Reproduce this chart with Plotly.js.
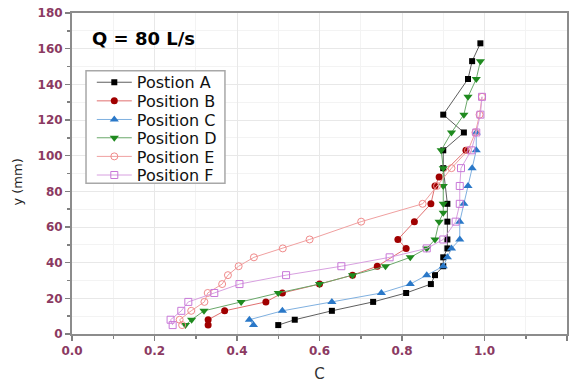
<!DOCTYPE html>
<html>
<head>
<meta charset="utf-8">
<script src="https://cdn.plot.ly/plotly-3.0.1.min.js"></script>
<style>
  html, body { margin: 0; padding: 0; background: #fff; }
  #chart { width: 577px; height: 383px; }
</style>
</head>
<body>
<div id="chart"></div>
<script>
// Concentration profiles C versus height y (mm) at six measuring positions, Q = 80 L/s

const posA_C = [0.50, 0.54, 0.63, 0.73, 0.81, 0.87, 0.88, 0.90, 0.90, 0.91, 0.91, 0.91, 0.91, 0.90, 0.90, 0.95, 0.90, 0.96, 0.97, 0.99];
const posA_y = [5, 8, 13, 18, 23, 28, 33, 38, 43, 48, 53, 63, 73, 93, 103, 113, 123, 143, 153, 163];

const posB_C = [0.33, 0.33, 0.37, 0.47, 0.51, 0.60, 0.68, 0.74, 0.81, 0.79, 0.83, 0.87, 0.88, 0.89, 0.955];
const posB_y = [5, 8, 13, 18, 23, 28, 33, 38, 48, 53, 63, 73, 83, 88, 103];

const posC_C = [0.44, 0.43, 0.51, 0.63, 0.75, 0.82, 0.86, 0.90, 0.91, 0.92, 0.94, 0.94, 0.95, 0.96, 0.97, 0.98, 0.98];
const posC_y = [5, 8, 13, 18, 23, 28, 33, 38, 43, 48, 53, 63, 73, 83, 93, 103, 113];

const posD_C = [0.275, 0.29, 0.32, 0.41, 0.50, 0.60, 0.68, 0.76, 0.82, 0.86, 0.88, 0.89, 0.90, 0.90, 0.90, 0.90, 0.895, 0.92, 0.95, 0.96, 0.98, 0.99];
const posD_y = [5, 8, 13, 18, 23, 28, 33, 38, 43, 48, 53, 63, 68, 73, 83, 93, 103, 113, 123, 133, 143, 153];

const posE_C = [0.267, 0.261, 0.289, 0.321, 0.329, 0.364, 0.378, 0.404, 0.441, 0.511, 0.576, 0.701, 0.85, 0.885, 0.92, 0.96, 0.978, 0.988, 0.994];
const posE_y = [5, 8, 13, 18, 23, 28, 33, 38, 43, 48, 53, 63, 73, 83, 93, 103, 113, 123, 133];

const posF_C = [0.244, 0.239, 0.265, 0.282, 0.345, 0.406, 0.519, 0.653, 0.77, 0.86, 0.90, 0.93, 0.94, 0.94, 0.943, 0.968, 0.98, 0.99, 0.994];
const posF_y = [5, 8, 13, 18, 23, 28, 33, 38, 43, 48, 53, 63, 73, 83, 93, 103, 113, 123, 133];

const seriesNames = ['Postion A', 'Position B', 'Position C', 'Position D', 'Position E', 'Position F'];

const xTicks = [0.0, 0.2, 0.4, 0.6, 0.8, 1.0, 1.2];
const xTickText = ['0.0', '0.2', '0.4', '0.6', '0.8', '1.0', '1.2'];
const yTicks = [0, 20, 40, 60, 80, 100, 120, 140, 160, 180];

const styles = [
  { line: '#5e5e5e', marker: { symbol: 'square', color: '#000000', size: 6 } },
  { line: '#e07070', marker: { symbol: 'circle', color: '#a00000', size: 7 } },
  { line: '#7fb0e0', marker: { symbol: 'triangle-up', color: '#2a78c8', size: 8 } },
  { line: '#6aa86a', marker: { symbol: 'triangle-down', color: '#1f8a1f', size: 8 } },
  { line: '#f0a0a0', marker: { symbol: 'circle-open', color: '#f08a8a', size: 7, line: { width: 1 } } },
  { line: '#d8a0e0', marker: { symbol: 'square-open', color: '#c878d8', size: 7, line: { width: 1 } } }
];

const xs = [posA_C, posB_C, posC_C, posD_C, posE_C, posF_C];
const ys = [posA_y, posB_y, posC_y, posD_y, posE_y, posF_y];

// one legend per entry so the rows can sit closer than the default row height
const legendIds = ['legend', 'legend2', 'legend3', 'legend4', 'legend5', 'legend6'];

const traces = xs.map((x, i) => ({
  type: 'scatter',
  mode: 'lines+markers',
  name: seriesNames[i],
  legend: legendIds[i],
  x: x,
  y: ys[i],
  line: { color: styles[i].line, width: 1 },
  marker: styles[i].marker
}));

const sans = 'DejaVu Sans, Verdana, sans-serif';
const tickFont = { family: sans, size: 12, color: '#8b3a62', weight: 'bold' };

const layout = {
  width: 577,
  height: 383,
  margin: { l: 72, r: 10, t: 13, b: 49 },
  paper_bgcolor: '#ffffff',
  plot_bgcolor: '#ffffff',
  showlegend: true,
  xaxis: {
    range: [0, 1.2],
    tickvals: xTicks, ticktext: xTickText,
    ticks: 'outside', ticklen: 5, tickwidth: 1.5, tickcolor: '#808080',
    showline: true, linecolor: '#8c8c8c', linewidth: 2, mirror: true,
    showgrid: true, gridcolor: '#e8e8e8', gridwidth: 1,
    zeroline: false,
    tickfont: tickFont,
    minor: { dtick: 0.1, ticks: 'outside', ticklen: 3, tickcolor: '#808080', showgrid: true, gridcolor: '#f3f3f3' },
    title: { text: 'C', font: { family: sans, size: 15, color: '#333' }, standoff: 12 }
  },
  yaxis: {
    range: [0, 180],
    tickvals: yTicks,
    ticks: 'outside', ticklen: 5, tickwidth: 1.5, tickcolor: '#808080',
    showline: true, linecolor: '#8c8c8c', linewidth: 2, mirror: true,
    showgrid: true, gridcolor: '#e8e8e8', gridwidth: 1,
    zeroline: false,
    tickfont: tickFont,
    minor: { dtick: 10, ticks: 'outside', ticklen: 3, tickcolor: '#808080', showgrid: true, gridcolor: '#f3f3f3' }
  },
  shapes: [{
    type: 'rect', xref: 'paper', yref: 'paper',
    x0: 0.0283, x1: 0.309, y0: 0.470, y1: 0.820,
    line: { color: '#a8a8a8', width: 1.5 },
    fillcolor: '#ffffff', layer: 'above'
  }],
  annotations: [
    {
      text: '<b>Q = 80 L/s</b>',
      xref: 'paper', yref: 'paper',
      x: 0.036, y: 0.921, xanchor: 'left', yanchor: 'middle',
      showarrow: false,
      font: { family: sans, size: 18, color: '#000' }
    },
    {
      // y-axis label, set a little below the middle of the axis
      text: 'y (mm)',
      xref: 'paper', yref: 'paper',
      x: -0.111, y: 0.472, xanchor: 'center', yanchor: 'middle',
      textangle: -90, showarrow: false,
      font: { family: sans, size: 13, color: '#222' }
    }
  ]
};

const legendRowY = [0.784, 0.726, 0.668, 0.611, 0.553, 0.495];
legendIds.forEach((id, i) => {
  layout[id] = {
    x: 0.040, y: legendRowY[i], xanchor: 'left', yanchor: 'middle',
    bgcolor: 'rgba(0,0,0,0)', borderwidth: 0,
    font: { family: sans, size: 16, color: '#111' },
    itemwidth: 35
  };
});

Plotly.newPlot('chart', traces, layout, { displayModeBar: false, staticPlot: true });
</script>
</body>
</html>
